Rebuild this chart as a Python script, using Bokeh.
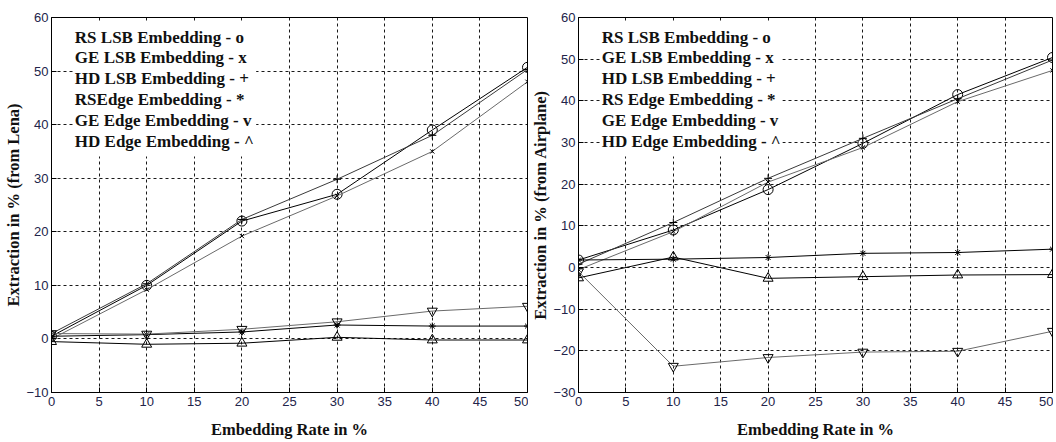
from bokeh.plotting import figure
from bokeh.layouts import row
from bokeh.models import Range1d, FixedTicker, BoxAnnotation, Label
from bokeh.embed import file_html
from bokeh.resources import INLINE

# ---------------- data ----------------
rates = [0, 10, 20, 30, 40, 50]

series_names = ["RS LSB", "GE LSB", "HD LSB", "RS Edge", "GE Edge", "HD Edge"]

lena_rs_lsb = [0.5, 10.0, 22.0, 27.0, 39.0, 50.7]
lena_ge_lsb = [0.0, 9.2, 19.2, 26.7, 35.0, 48.0]
lena_hd_lsb = [1.0, 10.3, 22.3, 29.8, 38.0, 50.3]
lena_rs_edge = [0.5, 0.8, 1.3, 2.6, 2.4, 2.4]
lena_ge_edge = [1.0, 0.9, 1.8, 3.2, 5.2, 6.1]
lena_hd_edge = [-0.5, -1.0, -0.8, 0.3, -0.2, -0.2]

air_rs_lsb = [1.8, 9.0, 18.7, 29.8, 41.5, 50.4]
air_ge_lsb = [-0.5, 8.6, 20.5, 28.8, 39.8, 47.3]
air_hd_lsb = [0.8, 10.8, 21.4, 31.0, 40.5, 49.8]
air_rs_edge = [1.8, 2.0, 2.4, 3.4, 3.6, 4.4]
air_ge_edge = [-1.0, -23.7, -21.6, -20.3, -20.1, -15.3]
air_hd_edge = [-2.5, 2.5, -2.6, -2.2, -1.8, -1.7]

x_ticks = [0, 5, 10, 15, 20, 25, 30, 35, 40, 45, 50]
lena_y_ticks = [-10, 0, 10, 20, 30, 40, 50, 60]
air_y_ticks = [-30, -20, -10, 0, 10, 20, 30, 40, 50, 60]

lena_legend = ["RS LSB Embedding - o", "GE LSB Embedding - x", "HD LSB Embedding - +",
               "RSEdge Embedding - *", "GE Edge Embedding - v", "HD Edge Embedding - ^"]
air_legend = ["RS LSB Embedding - o", "GE LSB Embedding - x", "HD LSB Embedding - +",
              "RS Edge Embedding - *", "GE Edge Embedding - v", "HD Edge Embedding - ^"]

# ---------------- styles ----------------
markers = ["circle", "x", "cross", "asterisk", "inverted_triangle", "triangle"]
msizes = [10, 6, 8, 7, 10, 10]
lcolors = ["#000000", "#6a6a6a", "#3a3a3a", "#000000", "#6a6a6a", "#000000"]

TICK_COLOR = "#22244a"
FRAME_H = 375


def make_panel(ylabel, yr, yticks, data, legend, width, bl, br):
    p = figure(width=width, height=442, output_backend="svg", toolbar_location=None,
               x_range=Range1d(0, 50), y_range=Range1d(*yr),
               min_border_left=bl, min_border_right=br, min_border_top=17, min_border_bottom=50)
    p.background_fill_color = "white"
    p.border_fill_color = "white"
    p.outline_line_color = "black"
    p.outline_line_width = 1

    p.xaxis.ticker = FixedTicker(ticks=x_ticks)
    p.yaxis.ticker = FixedTicker(ticks=yticks)
    for ax in (p.xaxis[0], p.yaxis[0]):
        ax.major_tick_in = 5
        ax.major_tick_out = 0
        ax.minor_tick_line_color = None
        ax.axis_line_color = "black"
        ax.major_tick_line_color = "black"
        ax.major_label_text_font = "Liberation Sans"
        ax.major_label_text_font_size = "13px"
        ax.major_label_text_color = TICK_COLOR
        ax.axis_label_text_font = "Liberation Serif"
        ax.axis_label_text_font_style = "bold"
        ax.axis_label_text_font_size = "16.5px"
        ax.axis_label_text_color = "#111111"
    p.xaxis.major_label_standoff = 4
    p.yaxis.major_label_standoff = 3
    p.xaxis.axis_label = "Embedding Rate in %"
    p.yaxis.axis_label = ylabel
    p.xaxis.axis_label_standoff = 11
    p.yaxis.axis_label_standoff = 0

    for g in (p.xgrid[0], p.ygrid[0]):
        g.grid_line_color = "black"
        g.grid_line_dash = "3 3"
        g.grid_line_width = 1
        g.grid_line_alpha = 0.9

    for ys, m, s, c in zip(data, markers, msizes, lcolors):
        p.line(rates, ys, line_color=c, line_width=1)
        p.scatter(rates, ys, marker=m, size=s, line_color="black", fill_color=None, line_width=1)

    ymax = yr[1]
    span = yr[1] - yr[0]
    unit = span / FRAME_H  # data units per pixel vertically
    p.add_layout(BoxAnnotation(left=2.3, right=21.5, top=ymax - 5 * unit, bottom=ymax - 139 * unit,
                               fill_color="white", fill_alpha=1.0, line_color=None))
    for i, t in enumerate(legend):
        p.add_layout(Label(x=2.45, y=ymax - (19.5 + 20.8 * i) * unit, text=t,
                           text_font="Liberation Serif", text_font_style="bold",
                           text_font_size="17px", text_color="#111111",
                           text_baseline="middle", text_align="left"))
    return p


p1 = make_panel("Extraction in % (from Lena)", (-10, 60), lena_y_ticks,
                [lena_rs_lsb, lena_ge_lsb, lena_hd_lsb, lena_rs_edge, lena_ge_edge, lena_hd_edge],
                lena_legend, 528, 51, 1)
p2 = make_panel("Extraction in % (from Airplane)", (-30, 60), air_y_ticks,
                [air_rs_lsb, air_ge_lsb, air_hd_lsb, air_rs_edge, air_ge_edge, air_hd_edge],
                air_legend, 525, 48, 1)

layout = row(p1, p2, spacing=0)
open("out.html", "w").write(file_html(layout, INLINE))
